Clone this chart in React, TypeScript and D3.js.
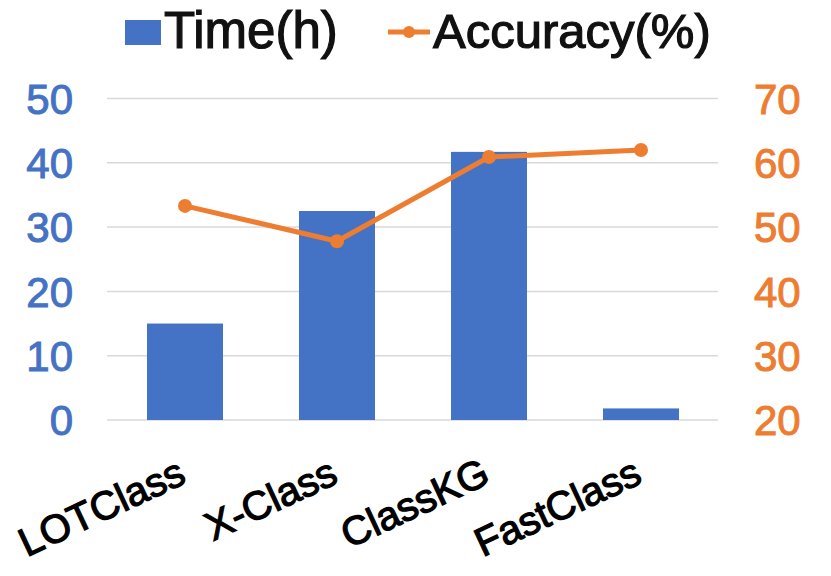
import React from "react";
import * as d3 from "d3";

const categories = ["LOTClass", "X-Class", "ClassKG", "FastClass"];
const timeValues = [15, 32.5, 41.7, 1.8];
const accuracyValues = [53.3, 47.8, 60.9, 62.0];
const leftTicks = [0, 10, 20, 30, 40, 50];
const rightTicks = [20, 30, 40, 50, 60, 70];

const W = 831;
const H = 576;
const BLUE = "#4472C4";
const ORANGE = "#ED7D31";
const FONT = "'Liberation Sans', Arial, sans-serif";

export default function App() {
  const x = d3.scaleBand<string>().domain(categories).range([109, 717]).paddingInner(0.5).paddingOuter(0.25);
  const yL = d3.scaleLinear().domain([0, 50]).range([420, 98.5]);
  const yR = d3.scaleLinear().domain([20, 70]).range([420, 98.5]);
  const line = d3
    .line<number>()
    .x((_, i) => (x(categories[i]) as number) + x.bandwidth() / 2)
    .y((d) => yR(d));

  return (
    <svg width={W} height={H} style={{ position: "absolute", left: 0, top: 0, background: "#fff" }}>
      <rect width={W} height={H} fill="#fff" />
      {leftTicks.map((t) => (
        <line key={"g" + t} x1={107} x2={718} y1={yL(t)} y2={yL(t)} stroke="#D9D9D9" strokeWidth={1.5} />
      ))}
      {categories.map((c, i) => (
        <rect
          key={c}
          x={x(c)}
          y={yL(timeValues[i])}
          width={x.bandwidth()}
          height={yL(0) - yL(timeValues[i])}
          fill={BLUE}
        />
      ))}
      <path d={line(accuracyValues) || ""} fill="none" stroke={ORANGE} strokeWidth={5} strokeLinejoin="round" />
      {accuracyValues.map((v, i) => (
        <circle
          key={"p" + i}
          cx={(x(categories[i]) as number) + x.bandwidth() / 2}
          cy={yR(v)}
          r={7}
          fill={ORANGE}
        />
      ))}
      {leftTicks.map((t) => (
        <text
          key={"l" + t}
          x={73}
          y={yL(t)}
          dy="0.36em"
          textAnchor="end"
          fontFamily={FONT}
          fontSize={42}
          fill={BLUE}
          stroke={BLUE}
          strokeWidth={1}
        >
          {t}
        </text>
      ))}
      {rightTicks.map((t) => (
        <text
          key={"r" + t}
          x={754}
          y={yR(t)}
          dy="0.36em"
          textAnchor="start"
          fontFamily={FONT}
          fontSize={42}
          fill={ORANGE}
          stroke={ORANGE}
          strokeWidth={1}
        >
          {t}
        </text>
      ))}
      {categories.map((c) => {
        const cx = (x(c) as number) + x.bandwidth() / 2 + 3;
        const cy = 482;
        return (
          <text
            key={"c" + c}
            x={cx}
            y={cy}
            textAnchor="end"
            transform={`rotate(-25 ${cx} ${cy})`}
            fontFamily={FONT}
            fontSize={40}
            fill="#000"
            stroke="#000"
            strokeWidth={1.2}
          >
            {c}
          </text>
        );
      })}
      <g>
        <rect x={125} y={20} width={36} height={25} fill={BLUE} />
        <text x={164} y={48} fontFamily={FONT} fontSize={51} fill="#111" stroke="#111" strokeWidth={1.2}>
          Time(h)
        </text>
        <line x1={388} x2={430} y1={32} y2={32} stroke={ORANGE} strokeWidth={5} />
        <circle cx={409} cy={32} r={6} fill={ORANGE} />
        <text x={433} y={48} fontFamily={FONT} fontSize={49} fill="#111" stroke="#111" strokeWidth={1.2}>
          Accuracy(%)
        </text>
      </g>
    </svg>
  );
}
